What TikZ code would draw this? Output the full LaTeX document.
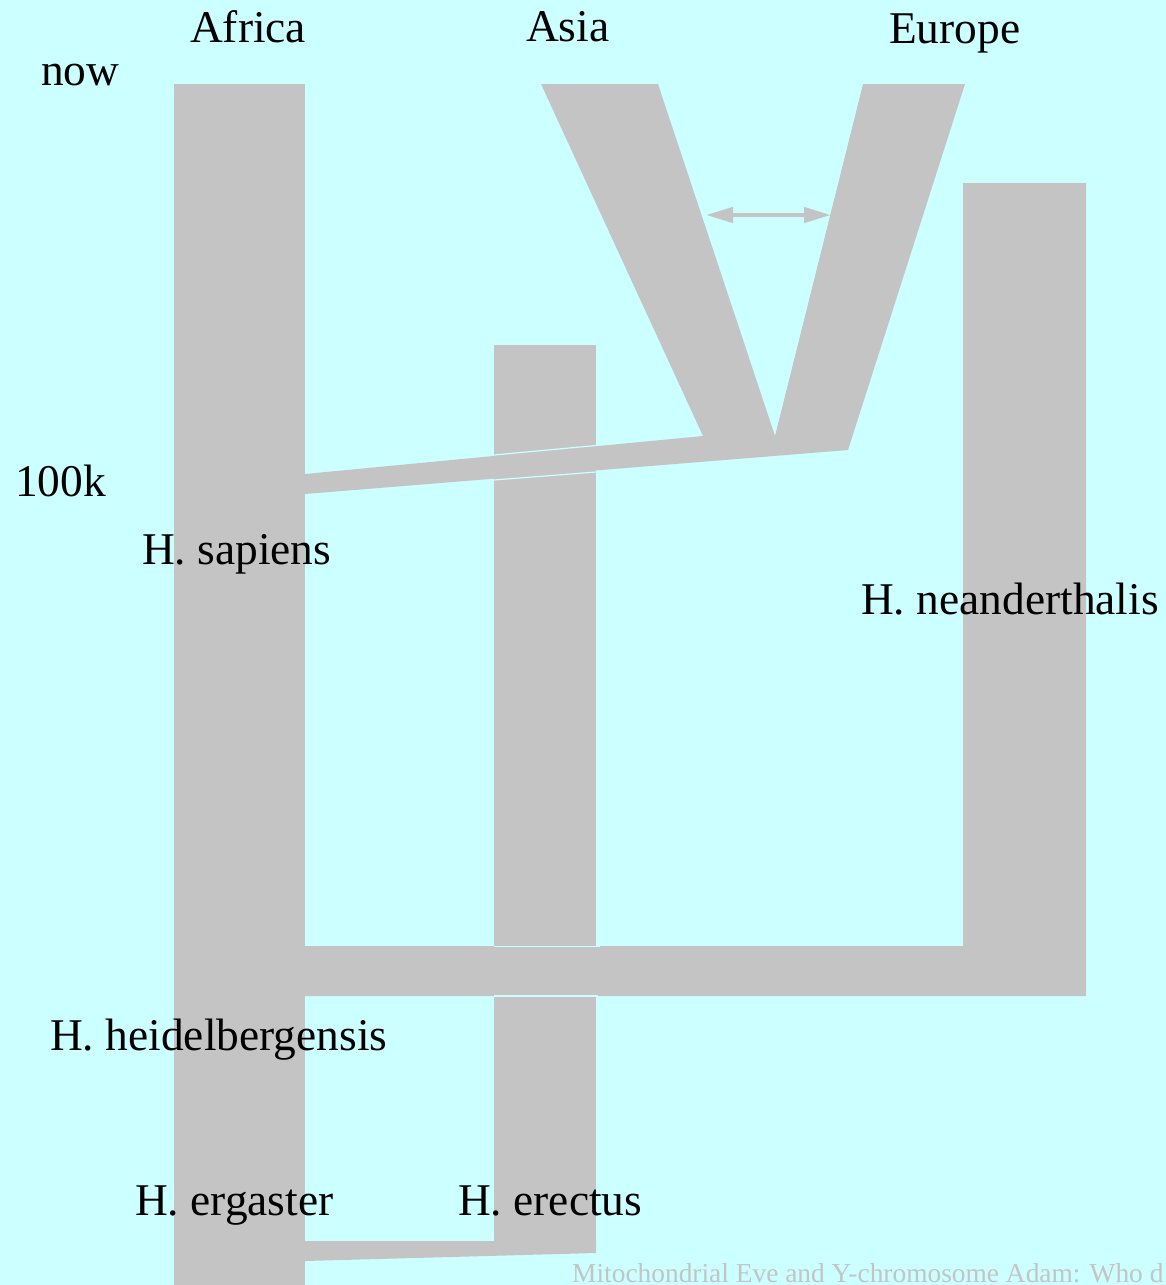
\documentclass[tikz,border=0pt]{standalone}
\usepackage{fontspec}
\setmainfont{Liberation Serif}
\usetikzlibrary{arrows.meta}
\definecolor{skyfill}{HTML}{CCFFFF}
\definecolor{lineagefill}{HTML}{C4C4C4}
\definecolor{notetext}{HTML}{C4C4C4}
\tikzset{
  lineage/.style={fill=lineagefill, draw=none},
  seam/.style={draw=skyfill, line width=1.2pt},
  lab/.style={anchor=base west, inner sep=0pt, font=\fontsize{45.4}{50}\selectfont},
  foot/.style={anchor=base west, inner sep=0pt, text=notetext, font=\fontsize{27.4}{30}\selectfont},
  flow/.style={<->, >={Triangle[length=27pt, width=15pt]}, line width=4.5pt, draw=lineagefill},
}

\begin{document}
\begin{tikzpicture}[x=1pt, y=-1pt]
  \fill[skyfill] (0,0) rectangle (1166,1285);
  \useasboundingbox (0,0) rectangle (1166,1285);
  % lineages
  \fill[lineage] (174,84) rectangle (305,1285);
  \fill[lineage] (494,345) rectangle (596,1253);
  \fill[lineage] (963,183) -- (1086,183) -- (1086,996) -- (305,996) -- (305,946) -- (963,946) -- cycle;
  \fill[lineage] (305,474) -- (703,436) -- (541,84) -- (658,84) -- (775,436) -- (863,84)
    -- (965,84) -- (848,450) -- (305,494) -- cycle;
  \fill[lineage] (305,1241) -- (596,1241) -- (596,1253) -- (305,1261) -- cycle;
  % seams where the bands cross Asia
  \draw[seam] (494,455) -- (596,445.5);
  \draw[seam] (494,480) -- (596,472);
  \draw[seam] (494,946.5) -- (600,946.5);
  \draw[seam] (494,996) -- (598,996);
  % gene flow
  \coordinate (flowW) at (706,215);
  \coordinate (flowE) at (831,215);
  \draw[flow] (flowW) -- (flowE);
  % labels
  \node[lab] (africa) at (190,42) {Africa};
  \node[lab] (asia) at (526,41) {Asia};
  \node[lab] (europe) at (889,43) {Europe};
  \node[lab] (now) at (41,85) {now};
  \node[lab] (t100k) at (15,496) {100k};
  \node[lab] (sapiens) at (142,564) {H. sapiens};
  \node[lab] (neander) at (861,614) {H. neanderthalis};
  \node[lab] (heidel) at (50,1050) {H. heidelbergensis};
  \node[lab] (ergaster) at (135,1215) {H. ergaster};
  \node[lab] (erectus) at (458,1215) {H. erectus};
  \node[foot] (source) at (572,1282) {Mitochondrial Eve and Y-chromosome Adam: Who d};
\end{tikzpicture}
\end{document}
